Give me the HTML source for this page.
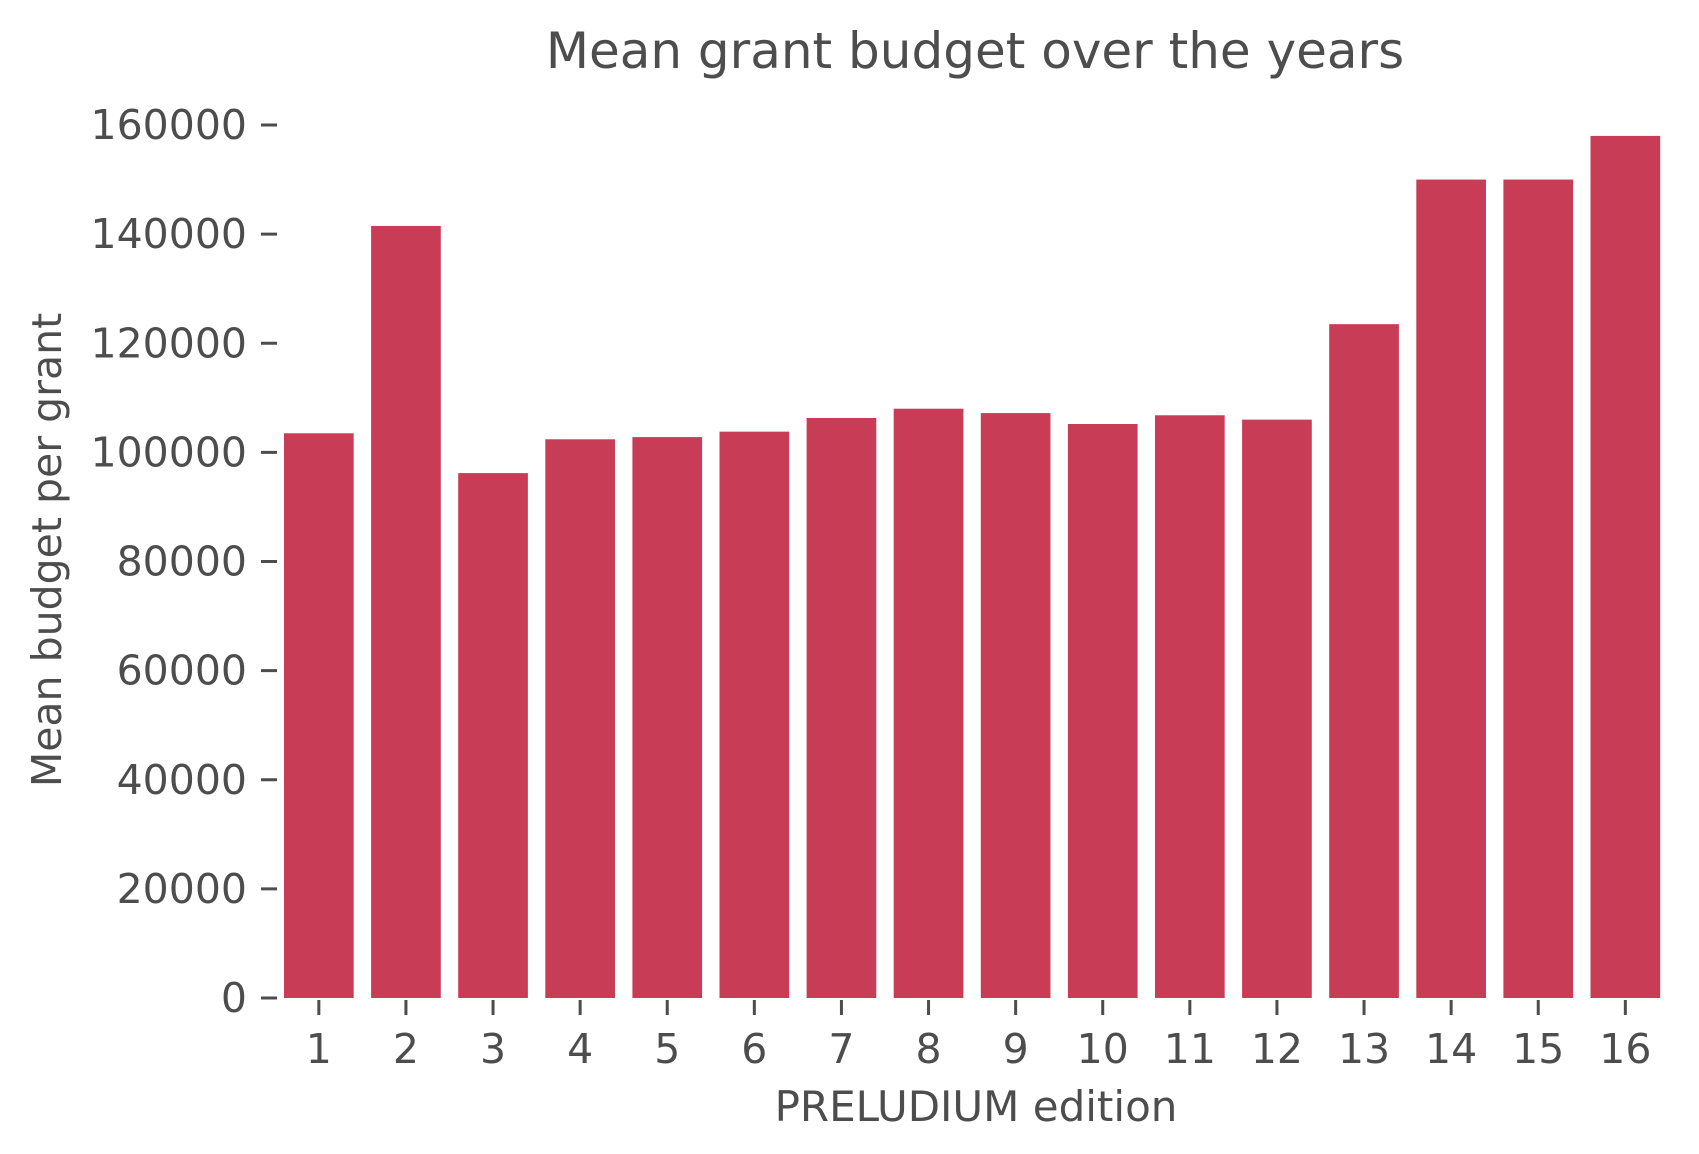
<!DOCTYPE html>
<html><head><meta charset="utf-8"><style>
html,body{margin:0;padding:0;background:#fff;}
svg{display:block;font-family:"DejaVu Sans","Liberation Sans",sans-serif;}
</style></head><body>
<svg id="chart" width="1699" height="1154" viewBox="0 0 1699 1154" xmlns="http://www.w3.org/2000/svg">
<text x="975" y="68" text-anchor="middle" font-size="50" fill="#4d4d4d">Mean grant budget over the years</text>
<text transform="translate(61,550) rotate(-90)" text-anchor="middle" font-size="41" fill="#4d4d4d">Mean budget per grant</text>
<text x="976" y="1121" text-anchor="middle" font-size="42" fill="#4d4d4d">PRELUDIUM edition</text>
<g id="bars"></g><g id="yaxis"></g><g id="xaxis"></g>
</svg>
<script>
const categories = ["1","2","3","4","5","6","7","8","9","10","11","12","13","14","15","16"];
const values = [103500,141500,96200,102400,102800,103800,106300,108000,107200,105200,106800,106000,123500,150000,150000,158000];
const yTicks = [0,20000,40000,60000,80000,100000,120000,140000,160000];
const NS="http://www.w3.org/2000/svg";
const y0=998, yTop=125, yMax=160000;
const xLeft=284, pitch=87.1, bw=0.8*pitch;
function y(v){return y0-(v/yMax)*(y0-yTop);}
function xc(i){return xLeft+bw/2+i*pitch;}
function mk(tag,attrs,parent){const e=document.createElementNS(NS,tag);for(const k in attrs)e.setAttribute(k,attrs[k]);parent.appendChild(e);return e;}
const gb=document.getElementById('bars'), gy=document.getElementById('yaxis'), gx=document.getElementById('xaxis');
values.forEach((v,i)=>{
  const r=mk('rect',{x:xc(i)-bw/2,y:y(v),width:bw,height:y0-y(v),fill:'#c93c56'},gb);
  
  
});
yTicks.forEach(t=>{
  const l=mk('line',{x1:261,x2:277,y1:y(t),y2:y(t),stroke:'#4d4d4d','stroke-width':3},gy);
  
  
  const tx=mk('text',{x:247,y:y(t)+14,'text-anchor':'end','font-size':41,fill:'#4d4d4d'},gy);
  tx.textContent=t;
  
  
});
categories.forEach((c,i)=>{
  const l=mk('line',{x1:xc(i),x2:xc(i),y1:1000,y2:1015,stroke:'#4d4d4d','stroke-width':3},gx);
  
  
  const tx=mk('text',{x:xc(i),y:1063,'text-anchor':'middle','font-size':41,fill:'#4d4d4d'},gx);
  tx.textContent=c;
  
  
});
</script>
</body></html>
